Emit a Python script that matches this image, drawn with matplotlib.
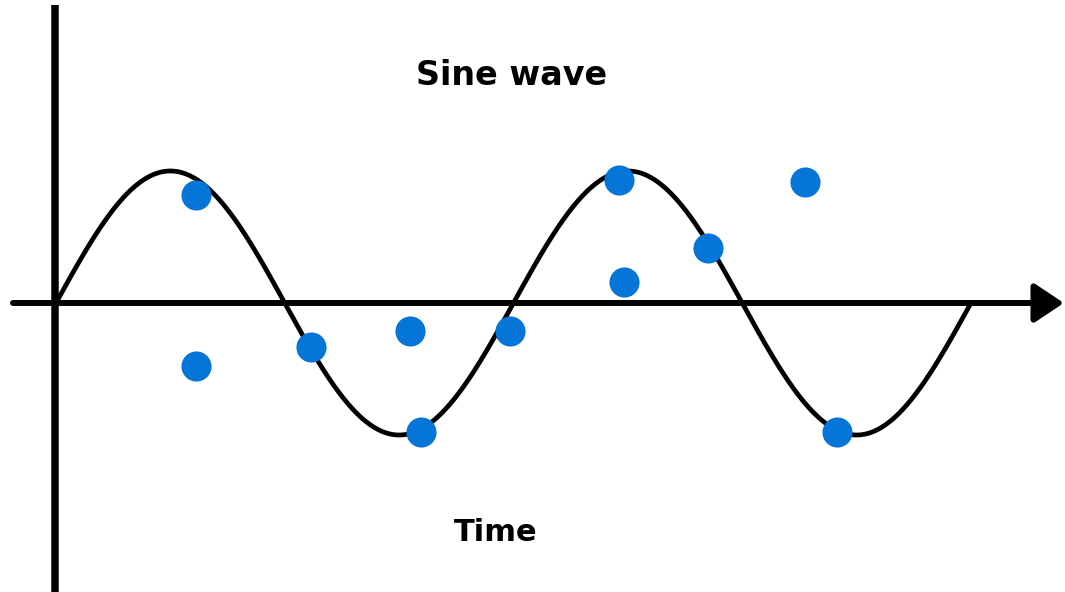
import numpy as np
from matplotlib import pyplot as plt

# time in cycles, amplitude in units of the sine peak
dot_t = [0.306, 0.306, 0.557, 0.774, 0.798, 0.992, 1.231, 1.242, 1.425, 1.637, 1.707]
dot_v = [0.82, -0.48, -0.33, -0.21, -0.98, -0.21, 0.93, 0.16, 0.42, 0.92, -0.98]
n_cycles = 2
title = "Sine wave"
xlabel = "Time"

plt.rcParams['font.family'] = ['DejaVu Sans']

fig = plt.figure(figsize=(10.65, 5.92), dpi=100)
ax = fig.add_axes([0, 0, 1, 1])
ax.set_xlim(-0.1224, 2.2055)
ax.set_ylim(-2.189, 2.295)
ax.axis('off')

# axes drawn by hand
ax.plot([-0.003, -0.003], [-2.19, 2.26], color='black', lw=5.4, solid_capstyle='butt')
ax.annotate("", xy=(2.203, 0), xytext=(-0.094, 0),
            arrowprops=dict(arrowstyle='-|>,head_length=0.9,head_width=0.6',
                            lw=4.3, color='black', mutation_scale=20,
                            shrinkA=0, shrinkB=0))

t = np.linspace(0, n_cycles, 800)
ax.plot(t, np.sin(2 * np.pi * t), color='black', lw=3.4, solid_capstyle='round')

ax.scatter(dot_t, dot_v, s=470, color='#0575d8', zorder=5, linewidths=0)

ax.text(0.995, 1.72, title, ha='center', va='center', fontsize=24, fontweight='bold')
ax.text(0.96, -1.74, xlabel, ha='center', va='center', fontsize=22, fontweight='bold')

fig.savefig("out.png", dpi=100)
